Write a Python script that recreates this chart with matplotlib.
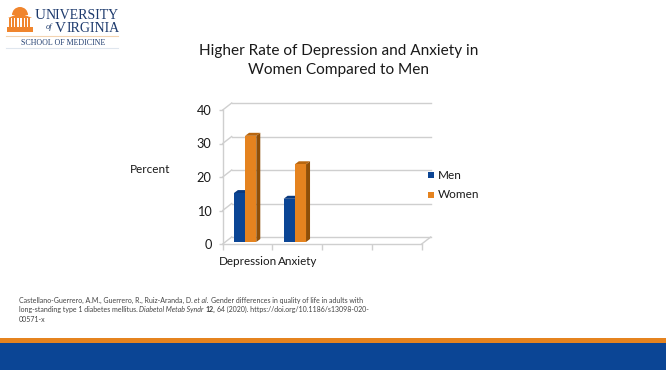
import numpy as np
import matplotlib
matplotlib.use("Agg")
import matplotlib.pyplot as plt
from matplotlib.patches import Polygon, Rectangle, Wedge
from matplotlib.transforms import Affine2D

plt.rcParams['font.family'] = ['Lato', 'DejaVu Sans']

categories = ["Depression", "Anxiety", "", ""]
men = [14.6, 12.9, 0, 0]
women = [31.7, 23.2, 0, 0]
yticks = [0, 10, 20, 30, 40]

W, H = 666, 370
BLUE = "#0b4595"
ORANGE = "#e5831f"
GRID = "#cfcfcf"
NAVY = "#1d3a6d"
LOGO = "#f0852d"

fig = plt.figure(figsize=(W/100, H/100), dpi=100)

# overlay in pixels for slide furniture
bg = fig.add_axes([0, 0, 1, 1], zorder=0)
bg.set_xlim(0, W)
bg.set_ylim(H, 0)
bg.axis("off")

bg.add_patch(Rectangle((0, 337.5), W, 5.5, color=ORANGE, lw=0))
bg.add_patch(Rectangle((0, 343), W, 27, color=BLUE, lw=0))

# logo
bg.add_patch(Wedge((20, 15), 8, 180, 360, color=LOGO, lw=0))
bg.add_patch(Polygon([(8, 18), (20, 13), (32, 18)], color=LOGO, lw=0))
for px in np.arange(9, 31, 3.2):
    bg.add_patch(Rectangle((px, 18), 1.8, 9, color=LOGO, lw=0))
bg.add_patch(Rectangle((7, 27), 26, 5, color=LOGO, lw=0))
bg.text(34.5, 19, "U", family="Liberation Serif", fontsize=11, color=NAVY, va="baseline")
bg.text(46, 19, "NIVERSITY", family="Liberation Serif", fontsize=10, color=NAVY, va="baseline")
bg.text(55, 32, "V", family="Liberation Serif", fontsize=11, color=NAVY, va="baseline")
bg.text(66.5, 32, "IRGINIA", family="Liberation Serif", fontsize=10, color=NAVY, va="baseline")
bg.text(46, 29, "of", family="Liberation Serif", style="italic", fontsize=6, color=NAVY, va="baseline")
bg.plot([6, 118], [36, 36], color="#f3d3b0", lw=0.8)
bg.text(21, 45, "SCHOOL OF MEDICINE", family="Liberation Serif", fontsize=5.7, color=NAVY, va="baseline")
bg.plot([6, 118], [48, 48], color="#dfe6ee", lw=0.8)

# title and labels
bg.text(338.5, 50.5, "Higher Rate of Depression and Anxiety in", fontsize=11.05, color="#1a1a1a",
        ha="center", va="center")
bg.text(338.5, 70, "Women Compared to Men", fontsize=11.05, color="#1a1a1a",
        ha="center", va="center")
bg.text(150.5, 169.5, "Percent", fontsize=8.5, color="#1a1a1a", ha="center", va="center")

# citation, one text per style run
def runs(y, parts):
    x = 19
    rend = fig.canvas.get_renderer()
    for s, kw in parts:
        t = bg.text(x, y, s, fontsize=5.05, color="#444444", va="baseline", **kw)
        ext = t.get_window_extent(rend)
        x += ext.width + 1.7

runs(303, [("Castellano-Guerrero, A.M., Guerrero, R., Ruiz-Aranda, D.", {}),
           ("et al.", {"style": "italic"}),
           ("Gender differences in quality of life in adults with", {})])
runs(312, [("long-standing type 1 diabetes mellitus.", {}),
           ("Diabetol Metab Syndr", {"style": "italic"}),
           ("12,", {"weight": "bold"}),
           ("64 (2020). https://doi.org/10.1186/s13098-020-", {})])
runs(321.5, [("00571-x", {})])

# chart: axes sits on the front plane of the fake 3d box
x0, x1, y0, y1 = 222.7, 421.7, 244, 110
ax = fig.add_axes([x0/W, 1-y0/H, (x1-x0)/W, (y0-y1)/H], zorder=1)
ax.patch.set_alpha(0)
ax.set_xlim(0, 4)
ax.set_ylim(0, 40)
for s in ["top", "right"]:
    ax.spines[s].set_visible(False)
for s in ["left", "bottom"]:
    ax.spines[s].set_color(GRID)
    ax.spines[s].set_linewidth(1.0)

ax.set_yticks(yticks)
ax.set_xticks(range(5))
ax.set_xticklabels([])
ax.set_xticks(np.arange(4)+0.5, labels=categories, minor=True)
ax.tick_params(axis="x", which="minor", length=0, labelsize=8.4, pad=8.5, labelcolor="#1a1a1a")
ax.tick_params(axis="x", which="major", length=4, color=GRID, width=1)
ax.tick_params(axis="y", length=3, color=GRID, width=1, labelsize=9.2, pad=5, labelcolor="#1a1a1a")

# depth of the box in pixels
dx, dy = 9, 7
back = ax.transData + Affine2D().translate(dx, dy)

for v in yticks:
    ax.plot([0, 4], [v, v], color=GRID, lw=1.0, transform=back, clip_on=False, zorder=1)
    p0 = ax.transData.transform((0, v))
    bg.plot([p0[0], p0[0]+dx], [H-p0[1], H-p0[1]-dy], color=GRID, lw=1.0)
p1 = ax.transData.transform((4, 0))
bg.plot([p1[0], p1[0]+dx], [H-p1[1], H-p1[1]-dy], color=GRID, lw=1.0)

# bars pushed slightly into the box, with side and top faces
barw = 0.225
xs = np.arange(len(categories)) + 0.45
face_tf = ax.transData + Affine2D().translate(0, 2)

def bar3d(xleft, vals, face, side, top, z):
    for xl, v in zip(xleft, vals):
        if v == 0:
            continue
        ax.bar(xl, v, barw, align="edge", color=face, lw=0, transform=face_tf, zorder=z+1, clip_on=False)
        a = ax.transData.transform((xl, v))
        b = ax.transData.transform((xl+barw, 0))
        l, r, t, u = a[0], b[0], H-a[1]-2, H-b[1]-2
        d = 4
        ax.add_patch(Polygon([(r, t), (r+d, t-3), (r+d, u-3), (r, u)], color=side, lw=0,
                             zorder=z, transform=bg.transData, clip_on=False))
        ax.add_patch(Polygon([(l, t), (l+d, t-3), (r+d, t-3), (r, t)], color=top, lw=0,
                             zorder=z, transform=bg.transData, clip_on=False))

bar3d(xs-barw, men, BLUE, "#0a3a80", "#0a3a80", 2)
bar3d(xs, women, ORANGE, "#8f4f08", "#b8660f", 3)

# legend
bg.add_patch(Rectangle((428, 172), 6, 6, color=BLUE, lw=0))
bg.add_patch(Rectangle((428, 192), 6, 6, color=ORANGE, lw=0))
bg.text(438, 175.5, "Men", fontsize=8.5, color="#1a1a1a", va="center")
bg.text(438, 195, "Women", fontsize=8.5, color="#1a1a1a", va="center")

fig.savefig("out.png", dpi=100)
